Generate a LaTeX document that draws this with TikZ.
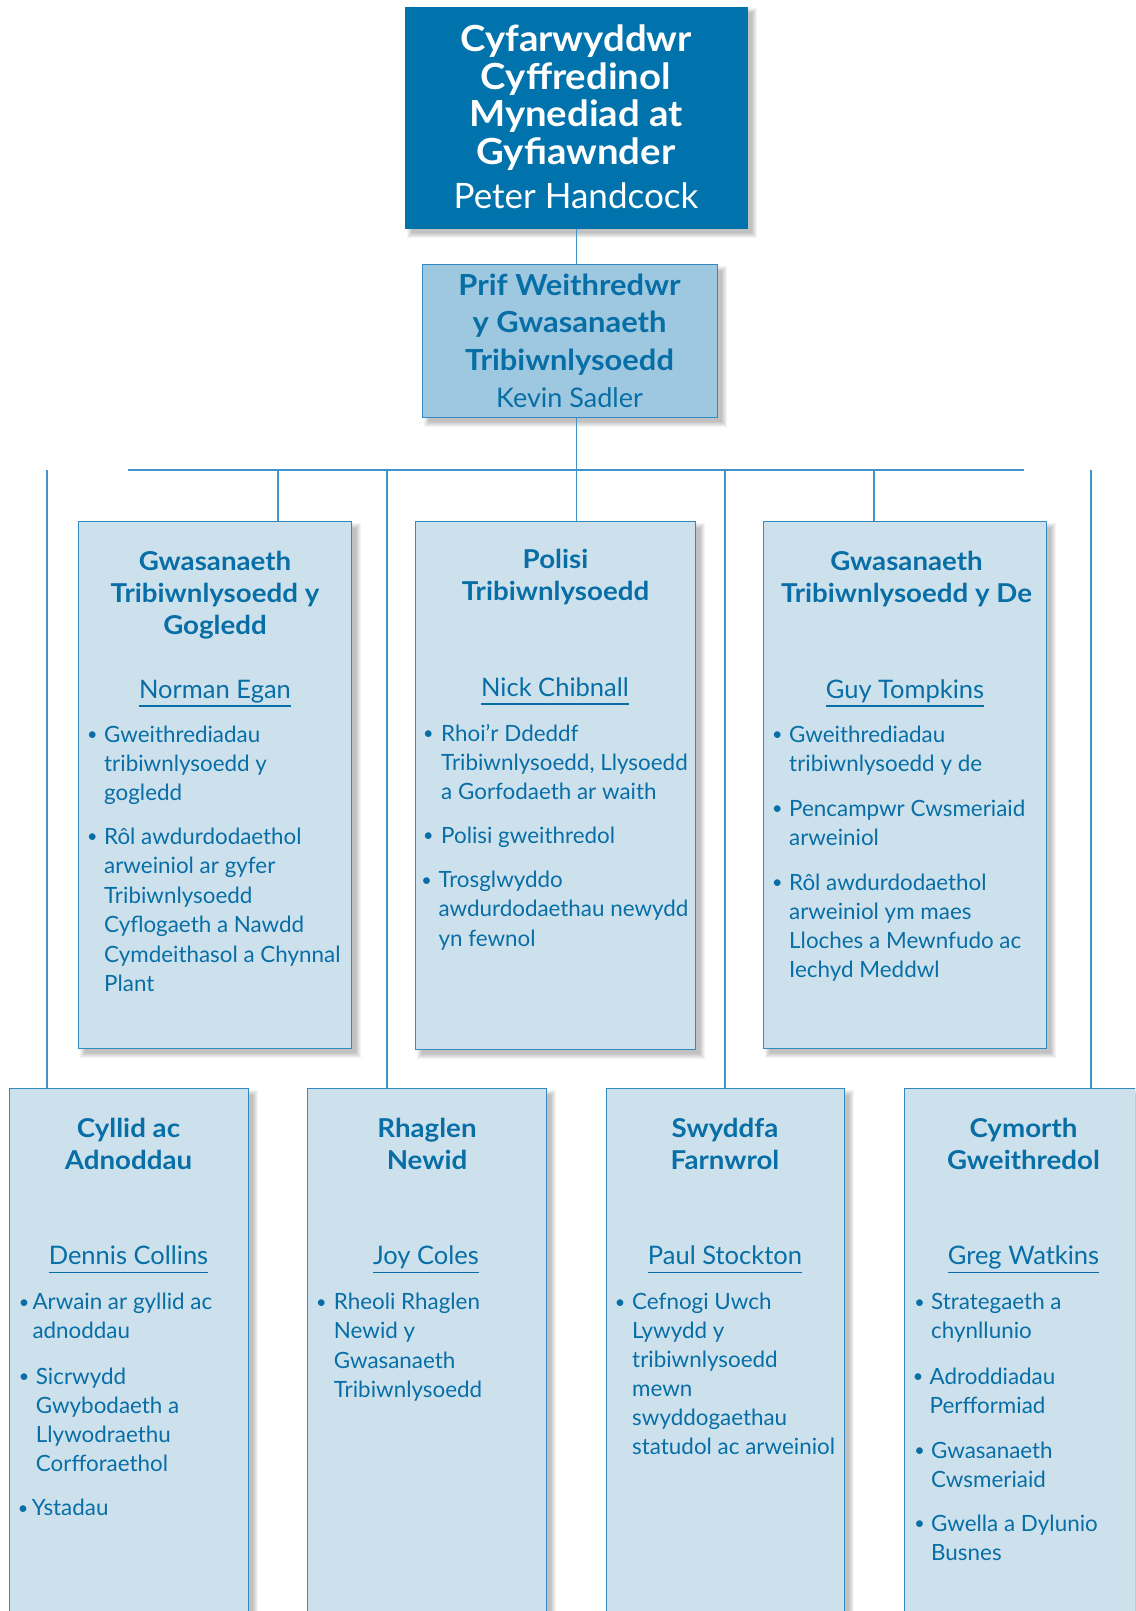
\documentclass[tikz,border=0pt]{standalone}
\usepackage{fontspec}
\setmainfont{Lato}
\newfontfamily\widefam[FakeStretch=1.065]{Lato}
\definecolor{dkblue}{RGB}{0,114,172}
\definecolor{midfill}{RGB}{157,200,224}
\definecolor{ltfill}{RGB}{205,225,237}
\definecolor{bord}{RGB}{52,138,192}
\definecolor{lncol}{RGB}{66,148,200}
\definecolor{tblue}{RGB}{8,110,166}
\newcommand\mycl[2]{\vtop{\let\\\cr\baselineskip=#1\relax\lineskiplimit=-1000pt\lineskip=0pt\halign{\hfil##\hfil\cr#2\crcr}}}
\newcommand\myll[2]{\vtop{\let\\\cr\baselineskip=#1\relax\lineskiplimit=-1000pt\lineskip=0pt\halign{##\hfil\cr#2\crcr}}}
\newcommand\softshadow[1]{\foreach \k in {0,...,5}{\fill[black,opacity=0.042] ([shift={(1.5+\k,1.5+\k)}]#1.north west) rectangle ([shift={(9-\k,9-\k)}]#1.south east);}}
\pgfdeclarelayer{bg}
\pgfsetlayers{bg,main}
\begin{document}
\begin{tikzpicture}[x=1pt,y=-1pt,
  box/.style={draw=bord, line width=1.2pt, inner sep=0pt, anchor=north west},
  topbox/.style={box, fill=dkblue, draw=dkblue},
  midbox/.style={box, fill=midfill},
  lowbox/.style={box, fill=ltfill},
  lnk/.style={draw=lncol, line width=1.3pt},
  ttl/.style={anchor=base, inner sep=0pt, text=white, font=\widefam\fontsize{36}{37.5}\selectfont\bfseries},
  ttn/.style={anchor=base, inner sep=0pt, text=white, font=\fontsize{35}{37.5}\selectfont},
  phd/.style={anchor=base, inner sep=0pt, text=tblue, font=\widefam\fontsize{29}{37.5}\selectfont\bfseries},
  pnm/.style={anchor=base, inner sep=0pt, text=tblue, font=\fontsize{27}{37.5}\selectfont},
  hd/.style={anchor=base, inner sep=0pt, text=tblue, font=\widefam\fontsize{26}{32}\selectfont\bfseries},
  nm/.style={anchor=base, inner sep=0pt, text=tblue, font=\fontsize{25.5}{30}\selectfont},
  bul/.style={anchor=base, inner sep=0pt, text=tblue, yshift=1.5pt, font=\fontsize{18}{29}\selectfont},
  btx/.style={anchor=base west, inner sep=0pt, text=tblue, font=\fontsize{22.4}{29}\selectfont},
  uline/.style={draw=tblue, line width=1.3pt}]
\useasboundingbox (0,0) rectangle (1135,1611);
\clip (0,0) rectangle (1135,1611);

% boxes
\node[topbox, minimum width=342, minimum height=221] (T) at (405,7) {};
\node[midbox, minimum width=295, minimum height=153] (P) at (422,264) {};
\node[lowbox, minimum width=273, minimum height=527] (A) at (78,521) {};
\node[lowbox, minimum width=280, minimum height=528] (B) at (415,521) {};
\node[lowbox, minimum width=283, minimum height=527] (C) at (763,521) {};
\node[lowbox, minimum width=239, minimum height=600] (D) at (9,1088) {};
\node[lowbox, minimum width=239, minimum height=600] (E) at (307,1088) {};
\node[lowbox, minimum width=238, minimum height=600] (F) at (606,1088) {};
\node[lowbox, minimum width=300, minimum height=600] (G) at (904,1088) {};

\begin{pgfonlayer}{bg}
\fill[white] (0,0) rectangle (1135,1611);
\softshadow{T}\softshadow{P}\softshadow{A}\softshadow{B}\softshadow{C}
\softshadow{D}\softshadow{E}\softshadow{F}\softshadow{G}
\end{pgfonlayer}

% connectors
\coordinate (busL) at (128,470);
\coordinate (busR) at (1024,470);
\coordinate (vD) at (47,470);
\coordinate (vA) at (278,470);
\coordinate (vE) at (387,470);
\coordinate (vF) at (725,470);
\coordinate (vC) at (874,470);
\coordinate (vG) at (1091,470);
\draw[lnk] (T.south) -- (T.south |- P.north);
\draw[lnk] (T.south |- P.south) -- (T.south |- B.north);
\draw[lnk] (busL) -- (busR);
\draw[lnk] (vA) -- (vA |- A.north);
\draw[lnk] (vC) -- (vC |- C.north);
\draw[lnk] (vD) -- (vD |- D.north);
\draw[lnk] (vE) -- (vE |- E.north);
\draw[lnk] (vF) -- (vF |- F.north);
\draw[lnk] (vG) -- (vG |- G.north);

% top
\node[ttl] (Tt) at (576,52) {\mycl{37.5pt}{Cyfarwyddwr\\Cyffredinol\\Mynediad at\\Gyfiawnder}};
\node[ttn] (Tn) at (576,208) {Peter Handcock};
\node[phd] (Pt) at (569.5,295) {\mycl{37.5pt}{Prif Weithredwr\\y Gwasanaeth\\Tribiwnlysoedd}};
\node[pnm] (Pn) at (569.5,407) {Kevin Sadler};

% A
\node[hd] (hA) at (215,570) {\mycl{32pt}{Gwasanaeth\\Tribiwnlysoedd y\\Gogledd}};
\node[nm] (nA) at (215,698) {Norman Egan};
\draw[uline] ([yshift=-8pt]nA.base west) -- ([yshift=-8pt]nA.base east);
\node[bul] (bA1) at (92.3,742.3) {•};
\node[btx] (tA1) at (104,742.3) {\myll{29.3pt}{Gweithrediadau\\tribiwnlysoedd y\\gogledd}};
\node[bul] (bA2) at (92.3,844) {•};
\node[btx] (tA2) at (104,844) {\myll{29.5pt}{Rôl awdurdodaethol\\arweiniol ar gyfer\\Tribiwnlysoedd\\Cyflogaeth a Nawdd\\Cymdeithasol a Chynnal\\Plant}};

% B
\node[hd] (hB) at (555.5,568) {\mycl{32pt}{Polisi\\Tribiwnlysoedd}};
\node[nm] (nB) at (555,696) {Nick Chibnall};
\draw[uline] ([yshift=-8pt]nB.base west) -- ([yshift=-8pt]nB.base east);
\node[bul] (bB1) at (428.3,741) {•};
\node[btx] (tB1) at (441,741) {\myll{29.2pt}{Rhoi'r Ddeddf\\Tribiwnlysoedd, Llysoedd\\a Gorfodaeth ar waith}};
\node[bul] (bB2) at (428.3,843.3) {•};
\node[btx] (tB2) at (441,843.3) {Polisi gweithredol};
\node[bul] (bB3) at (426.7,887.7) {•};
\node[btx] (tB3) at (438.3,887.7) {\myll{29.2pt}{Trosglwyddo\\awdurdodaethau newydd\\yn fewnol}};

% C
\node[hd] (hC) at (906.5,570.5) {\mycl{31.5pt}{Gwasanaeth\\Tribiwnlysoedd y De}};
\node[nm] (nC) at (905,698) {Guy Tompkins};
\draw[uline] ([yshift=-8pt]nC.base west) -- ([yshift=-8pt]nC.base east);
\node[bul] (bC1) at (777.3,742.3) {•};
\node[btx] (tC1) at (789,742.3) {\myll{29.5pt}{Gweithrediadau\\tribiwnlysoedd y de}};
\node[bul] (bC2) at (777.3,816) {•};
\node[btx] (tC2) at (789,816) {\myll{29.2pt}{Pencampwr Cwsmeriaid\\arweiniol}};
\node[bul] (bC3) at (777.3,890) {•};
\node[btx] (tC3) at (789,890) {\myll{29.2pt}{Rôl awdurdodaethol\\arweiniol ym maes\\Lloches a Mewnfudo ac\\Iechyd Meddwl}};

% D
\node[hd] (hD) at (128.5,1137.5) {\mycl{31.5pt}{Cyllid ac\\Adnoddau}};
\node[nm] (nD) at (128.5,1264.7) {Dennis Collins};
\draw[uline] ([yshift=-7.5pt]nD.base west) -- ([yshift=-7.5pt]nD.base east);
\node[bul] (bD1) at (24,1309.7) {•};
\node[btx] (tD1) at (32.3,1309.7) {\myll{29pt}{Arwain ar gyllid ac\\adnoddau}};
\node[bul] (bD2) at (24,1384) {•};
\node[btx] (tD2) at (35.7,1384) {\myll{29.1pt}{Sicrwydd\\Gwybodaeth a\\Llywodraethu\\Corfforaethol}};
\node[bul] (bD3) at (23,1515.7) {•};
\node[btx] (tD3) at (31.7,1515.7) {Ystadau};

% E
\node[hd] (hE) at (427,1137.5) {\mycl{31.5pt}{Rhaglen\\Newid}};
\node[nm] (nE) at (426,1264.7) {Joy Coles};
\draw[uline] ([yshift=-7.5pt]nE.base west) -- ([yshift=-7.5pt]nE.base east);
\node[bul] (bE1) at (321.3,1309.7) {•};
\node[btx] (tE1) at (333.7,1309.7) {\myll{29.2pt}{Rheoli Rhaglen\\Newid y\\Gwasanaeth\\Tribiwnlysoedd}};

% F
\node[hd] (hF) at (725,1137.5) {\mycl{31.5pt}{Swyddfa\\Farnwrol}};
\node[nm] (nF) at (725,1264.7) {Paul Stockton};
\draw[uline] ([yshift=-7.5pt]nF.base west) -- ([yshift=-7.5pt]nF.base east);
\node[bul] (bF1) at (620,1309.7) {•};
\node[btx] (tF1) at (632,1309.7) {\myll{29pt}{Cefnogi Uwch\\Lywydd y\\tribiwnlysoedd\\mewn\\swyddogaethau\\statudol ac arweiniol}};

% G
\node[hd] (hG) at (1023.5,1137.5) {\mycl{31.5pt}{Cymorth\\Gweithredol}};
\node[nm] (nG) at (1023.5,1264.7) {Greg Watkins};
\draw[uline] ([yshift=-7.5pt]nG.base west) -- ([yshift=-7.5pt]nG.base east);
\node[bul] (bG1) at (919.5,1309.7) {•};
\node[btx] (tG1) at (931,1309.7) {\myll{29pt}{Strategaeth a\\chynllunio}};
\node[bul] (bG2) at (918,1384) {•};
\node[btx] (tG2) at (929.5,1384) {\myll{29pt}{Adroddiadau\\Perfformiad}};
\node[bul] (bG3) at (919.5,1458) {•};
\node[btx] (tG3) at (931,1458) {\myll{29pt}{Gwasanaeth\\Cwsmeriaid}};
\node[bul] (bG4) at (919.5,1531) {•};
\node[btx] (tG4) at (931,1531) {\myll{29pt}{Gwella a Dylunio\\Busnes}};
\end{tikzpicture}
\end{document}
